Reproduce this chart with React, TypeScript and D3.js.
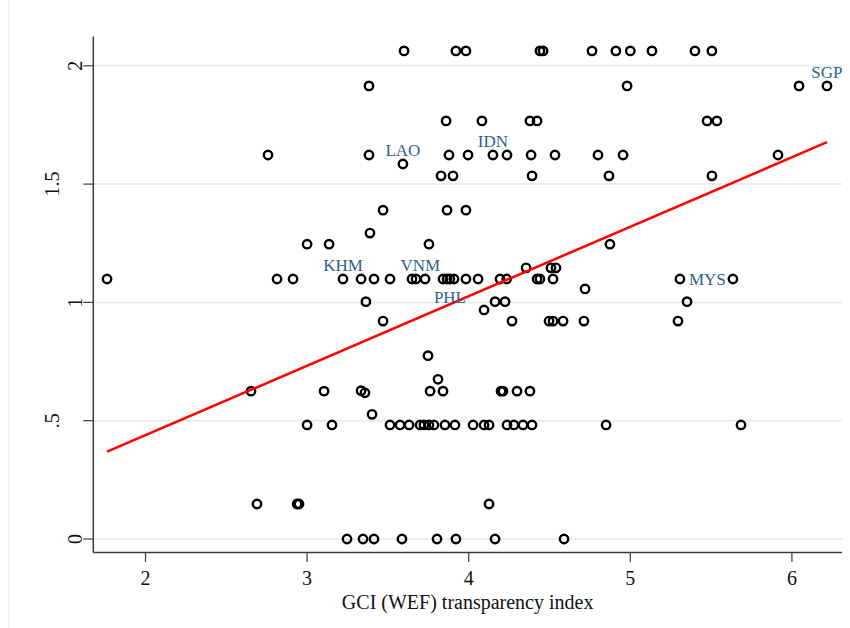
import React from "react";
import * as d3 from "d3";

// ---- data ----
const row206 = [3.6, 3.921, 3.983, 4.441, 4.46, 4.763, 4.911, 5.0, 5.134, 5.4, 5.505];
const row192 = [3.383, 4.98, 6.044, 6.217];
const row177 = [3.86, 4.082, 4.379, 4.423, 5.475, 5.536];
const row162 = [2.758, 3.383, 3.878, 3.996, 4.15, 4.237, 4.386, 4.534, 4.8, 4.955, 5.914];
const row1585 = [3.593];
const row1535 = [3.829, 3.903, 4.392, 4.868, 5.505];
const row139 = [3.47, 3.866, 3.983];
const row129 = [3.389];
const row1246 = [3.0, 3.136, 3.754, 4.874];
const row1146 = [4.355, 4.509, 4.54];
const row110 = [1.762, 2.814, 2.913, 3.222, 3.334, 3.414, 3.513, 3.649, 3.674, 3.73, 3.841, 3.866, 3.884, 3.909, 3.983, 4.058, 4.194, 4.235, 4.423, 4.441, 4.522, 5.307, 5.635];
const row1057 = [4.72];
const row100 = [3.364, 4.163, 4.225, 5.351];
const row0968 = [4.095];
const row092 = [3.47, 4.268, 4.497, 4.522, 4.584, 4.713, 5.295];
const row0775 = [3.748];
const row0675 = [3.81];
const row0627 = [3.334];
const row0618 = [3.358];
const row0625 = [2.653, 3.105, 3.761, 3.841, 4.2, 4.212, 4.299, 4.379];
const row0527 = [3.402];
const row048 = [3.0, 3.154, 3.513, 3.575, 3.631, 3.699, 3.723, 3.754, 3.785, 3.853, 3.915, 4.027, 4.095, 4.126, 4.237, 4.28, 4.336, 4.392, 4.85, 5.685];
const row0148 = [2.69, 2.938, 2.95, 4.126];
const row000 = [3.247, 3.346, 3.414, 3.587, 3.804, 3.921, 4.163, 4.59];

const rowXs = [row206, row192, row177, row162, row1585, row1535, row139, row129, row1246, row1146, row110, row1057, row100, row0968, row092, row0775, row0675, row0627, row0618, row0625, row0527, row048, row0148, row000];
const rowYs = [2.063, 1.915, 1.767, 1.623, 1.585, 1.535, 1.39, 1.293, 1.246, 1.146, 1.099, 1.057, 1.003, 0.968, 0.921, 0.775, 0.675, 0.627, 0.618, 0.625, 0.527, 0.482, 0.148, 0];

const fitX = [1.762, 6.217];
const fitY = [0.369, 1.677];

const labelCodes = ["LAO", "IDN", "KHM", "VNM", "PHL", "MYS", "SGP"];
const labelX = [3.593, 4.15, 3.222, 3.7, 3.884, 5.307, 6.217];
const labelY = [1.585, 1.623, 1.099, 1.099, 1.099, 1.099, 1.915];
const labelClock = [12, 12, 12, 12, 6, 3, 12];

const xTicks = [2, 3, 4, 5, 6];
const yTicks = [0, 0.5, 1, 1.5, 2];
const yTickLabels = ["0", ".5", "1", "1.5", "2"];
const xTitle = "GCI (WEF) transparency index";

export default function App() {
  const W = 850, H = 628;
  const left = 93.3, right = 842, top = 36.5, bottom = 552.5;
  const x = d3.scaleLinear().domain([2, 6]).range([145.5, 791.9]);
  const y = d3.scaleLinear().domain([0, 2]).range([539, 65.8]);
  const font = "'Liberation Serif', 'Times New Roman', serif";
  const pts: { x: number; y: number }[] = [];
  rowXs.forEach((xs, i) => xs.forEach((v) => pts.push({ x: v, y: rowYs[i] })));
  const line = d3.line<number>().x((d, i) => x(fitX[i])).y((d, i) => y(fitY[i]));
  const axisCol = "#3c3c3c";
  const labCol = "#2f5f8d";
  return (
    <svg width={W} height={H} style={{ position: "absolute", left: 0, top: 0, background: "#fff" }}>
      <line x1={9} x2={9} y1={0} y2={H} stroke="#e4ecf0" strokeWidth={1.2} />
      {yTicks.map((t) => (
        <line key={"g" + t} x1={left} x2={right} y1={y(t)} y2={y(t)} stroke="#e6eef0" strokeWidth={2} />
      ))}
      <line x1={left} x2={left} y1={top} y2={bottom} stroke={axisCol} strokeWidth={1.5} />
      <line x1={left} x2={right} y1={bottom} y2={bottom} stroke={axisCol} strokeWidth={1.5} />
      {yTicks.map((t, i) => (
        <g key={"yt" + t}>
          <line x1={left - 10} x2={left} y1={y(t)} y2={y(t)} stroke={axisCol} strokeWidth={1.2} />
          <text
            transform={`translate(${yTickLabels[i].includes(".") ? 59 : 82},${y(t)}) rotate(-90)`}
            textAnchor="middle"
            fontFamily={font}
            fontSize={20}
            fill="#111"
          >
            {yTickLabels[i]}
          </text>
        </g>
      ))}
      {xTicks.map((t) => (
        <g key={"xt" + t}>
          <line x1={x(t)} x2={x(t)} y1={bottom} y2={bottom + 9.5} stroke={axisCol} strokeWidth={1.2} />
          <text x={x(t)} y={585} textAnchor="middle" fontFamily={font} fontSize={20} fill="#111">
            {t}
          </text>
        </g>
      ))}
      <text x={(left + right) / 2} y={609} textAnchor="middle" fontFamily={font} fontSize={20} fill="#111">
        {xTitle}
      </text>
      {pts.map((p, i) => (
        <circle key={"p" + i} cx={x(p.x)} cy={y(p.y)} r={4.2} fill="none" stroke="#000" strokeWidth={2.4} />
      ))}
      <path d={line(fitX) || ""} stroke="#ff0000" strokeWidth={2.5} fill="none" />
      {labelCodes.map((c, i) => {
        const px = x(labelX[i]);
        const py = y(labelY[i]);
        const pos = labelClock[i];
        let tx = px, ty = py - 8, anchor: "middle" | "start" = "middle";
        if (pos === 6) { ty = py + 24; }
        if (pos === 3) { tx = px + 9; ty = py + 6; anchor = "start"; }
        return (
          <text key={c} x={tx} y={ty} textAnchor={anchor} fontFamily={font} fontSize={17} fill={labCol}>
            {c}
          </text>
        );
      })}
    </svg>
  );
}
